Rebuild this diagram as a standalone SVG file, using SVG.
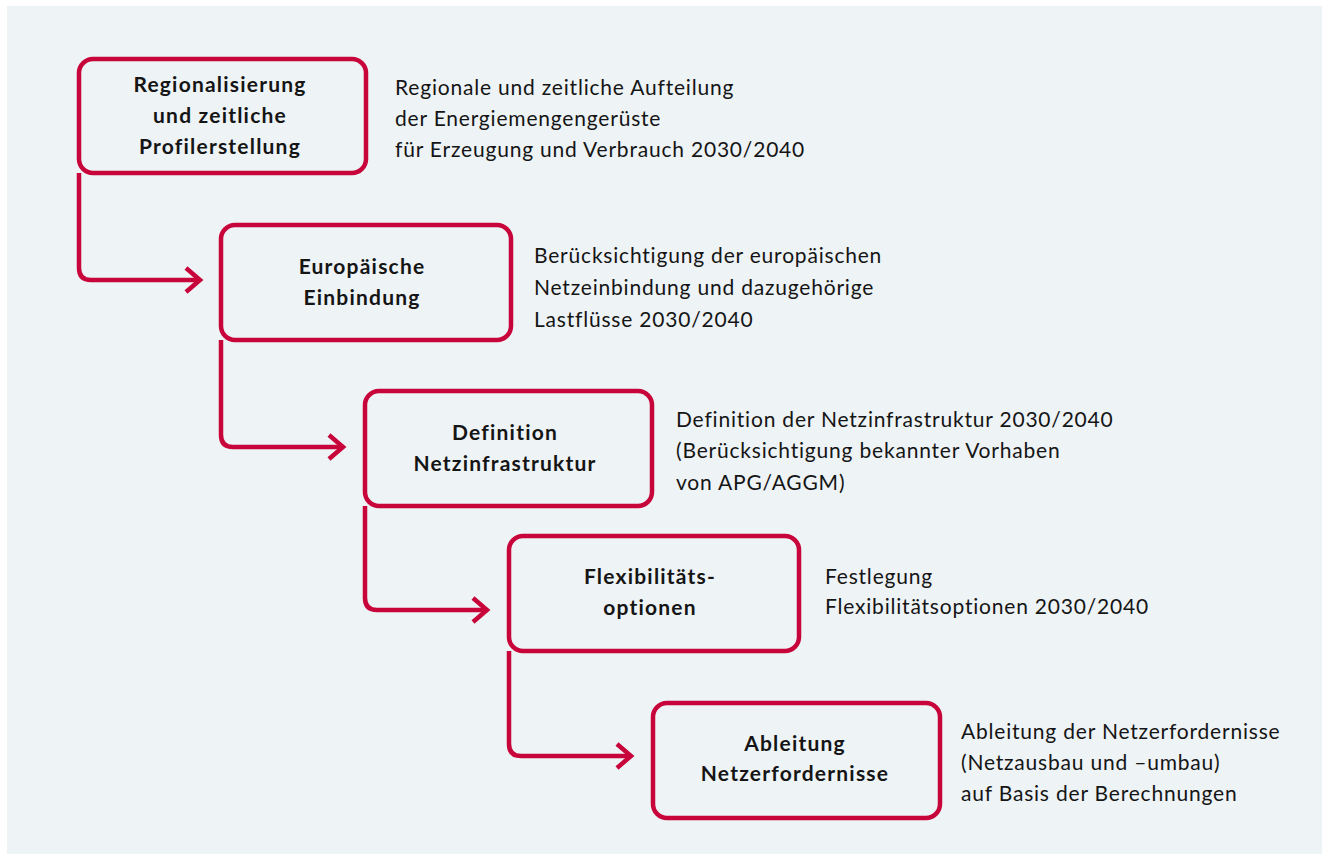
<svg xmlns="http://www.w3.org/2000/svg" width="1327" height="854" viewBox="0 0 1327 854">
<defs>
<style>
.box{fill:none;stroke:#c8053b;stroke-width:4.5}
.conn{fill:none;stroke:#c8053b;stroke-width:4.5;stroke-linejoin:miter}
.lbl{font-family:Lato,"Noto Sans","Liberation Sans",sans-serif;font-weight:bold;font-size:21px;letter-spacing:1.2px;fill:#151515;text-anchor:middle}
.desc{font-family:Lato,"Noto Sans","Liberation Sans",sans-serif;font-size:21px;letter-spacing:0.8px;fill:#151515}
</style>
</defs>
<rect x="0" y="0" width="1327" height="854" fill="#ffffff"/>
<rect x="7" y="6" width="1315" height="848" fill="#eef3f6"/>
<g id="connectors">
<path class="conn" d="M79 173 V268 Q79 280 91 280 H200"/>
<path class="conn" d="M186 268 L200 280 L186 292"/>
<path class="conn" d="M221 340 V435 Q221 447 233 447 H343"/>
<path class="conn" d="M329 435 L343 447 L329 459"/>
<path class="conn" d="M365 506 V598 Q365 610 377 610 H487"/>
<path class="conn" d="M473 598 L487 610 L473 622"/>
<path class="conn" d="M509 651 V744 Q509 756 521 756 H631"/>
<path class="conn" d="M617 744 L631 756 L617 768"/>
</g>
<g id="node1">
<rect class="box" x="79" y="59" width="287" height="114" rx="14"/>
<text class="lbl" x="220" y="92">Regionalisierung</text>
<text class="lbl" x="220" y="123">und zeitliche</text>
<text class="lbl" x="220" y="154">Profilerstellung</text>
<text class="desc" x="395" y="95">Regionale und zeitliche Aufteilung</text>
<text class="desc" x="395" y="126">der Energiemengengerüste</text>
<text class="desc" x="395" y="157">für Erzeugung und Verbrauch 2030/2040</text>
</g>
<g id="node2">
<rect class="box" x="221" y="225" width="290" height="115" rx="14"/>
<text class="lbl" x="362" y="274">Europäische</text>
<text class="lbl" x="362" y="305">Einbindung</text>
<text class="desc" x="534" y="263">Berücksichtigung der europäischen</text>
<text class="desc" x="534" y="295">Netzeinbindung und dazugehörige</text>
<text class="desc" x="534" y="327">Lastflüsse 2030/2040</text>
</g>
<g id="node3">
<rect class="box" x="365" y="391" width="287" height="115" rx="14"/>
<text class="lbl" x="505" y="440">Definition</text>
<text class="lbl" x="505" y="471">Netzinfrastruktur</text>
<text class="desc" x="676" y="427">Definition der Netzinfrastruktur 2030/2040</text>
<text class="desc" x="676" y="458">(Berücksichtigung bekannter Vorhaben</text>
<text class="desc" x="676" y="490">von APG/AGGM)</text>
</g>
<g id="node4">
<rect class="box" x="509" y="536" width="290" height="115" rx="14"/>
<text class="lbl" x="650" y="584">Flexibilitäts-</text>
<text class="lbl" x="650" y="615">optionen</text>
<text class="desc" x="825" y="584">Festlegung</text>
<text class="desc" x="825" y="614">Flexibilitätsoptionen 2030/2040</text>
</g>
<g id="node5">
<rect class="box" x="653" y="703" width="287" height="115" rx="14"/>
<text class="lbl" x="795" y="751">Ableitung</text>
<text class="lbl" x="795" y="781">Netzerfordernisse</text>
<text class="desc" x="961" y="739">Ableitung der Netzerfordernisse</text>
<text class="desc" x="961" y="770">(Netzausbau und –umbau)</text>
<text class="desc" x="961" y="801">auf Basis der Berechnungen</text>
</g>
</svg>
